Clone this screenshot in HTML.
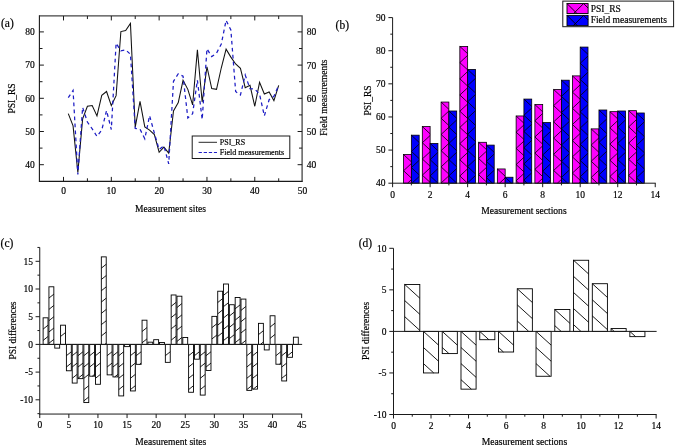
<!DOCTYPE html>
<html><head><meta charset="utf-8"><title>PSI comparison</title>
<style>html,body{margin:0;padding:0;background:#fff;overflow:hidden}svg{display:block}text{fill:#000;stroke:#000;stroke-width:0.18px}</style>
</head><body>
<svg width="675" height="446" viewBox="0 0 675 446" font-family='"Liberation Serif", serif'>
<rect width="675" height="446" fill="#fff"/>
<g id="pa">
<path d="M39.4 15.95H302.1V181.4" fill="none" stroke="#454545" stroke-width="1.3"/>
<path d="M39.4 15.35V181.4H302.70000000000005" fill="none" stroke="#1a1a1a" stroke-width="1.1"/>
<line x1="63.50" y1="181.40" x2="63.50" y2="176.90" stroke="#1a1a1a" stroke-width="1" />
<line x1="63.50" y1="15.95" x2="63.50" y2="20.45" stroke="#1a1a1a" stroke-width="1" />
<line x1="87.41" y1="181.40" x2="87.41" y2="178.30" stroke="#1a1a1a" stroke-width="1" />
<line x1="87.41" y1="15.95" x2="87.41" y2="19.05" stroke="#1a1a1a" stroke-width="1" />
<line x1="111.32" y1="181.40" x2="111.32" y2="176.90" stroke="#1a1a1a" stroke-width="1" />
<line x1="111.32" y1="15.95" x2="111.32" y2="20.45" stroke="#1a1a1a" stroke-width="1" />
<line x1="135.23" y1="181.40" x2="135.23" y2="178.30" stroke="#1a1a1a" stroke-width="1" />
<line x1="135.23" y1="15.95" x2="135.23" y2="19.05" stroke="#1a1a1a" stroke-width="1" />
<line x1="159.14" y1="181.40" x2="159.14" y2="176.90" stroke="#1a1a1a" stroke-width="1" />
<line x1="159.14" y1="15.95" x2="159.14" y2="20.45" stroke="#1a1a1a" stroke-width="1" />
<line x1="183.05" y1="181.40" x2="183.05" y2="178.30" stroke="#1a1a1a" stroke-width="1" />
<line x1="183.05" y1="15.95" x2="183.05" y2="19.05" stroke="#1a1a1a" stroke-width="1" />
<line x1="206.96" y1="181.40" x2="206.96" y2="176.90" stroke="#1a1a1a" stroke-width="1" />
<line x1="206.96" y1="15.95" x2="206.96" y2="20.45" stroke="#1a1a1a" stroke-width="1" />
<line x1="230.87" y1="181.40" x2="230.87" y2="178.30" stroke="#1a1a1a" stroke-width="1" />
<line x1="230.87" y1="15.95" x2="230.87" y2="19.05" stroke="#1a1a1a" stroke-width="1" />
<line x1="254.78" y1="181.40" x2="254.78" y2="176.90" stroke="#1a1a1a" stroke-width="1" />
<line x1="254.78" y1="15.95" x2="254.78" y2="20.45" stroke="#1a1a1a" stroke-width="1" />
<line x1="278.69" y1="181.40" x2="278.69" y2="178.30" stroke="#1a1a1a" stroke-width="1" />
<line x1="278.69" y1="15.95" x2="278.69" y2="19.05" stroke="#1a1a1a" stroke-width="1" />
<text x="63.50" y="194.10" font-size="9.5" text-anchor="middle" >0</text>
<text x="111.32" y="194.10" font-size="9.5" text-anchor="middle" >10</text>
<text x="159.14" y="194.10" font-size="9.5" text-anchor="middle" >20</text>
<text x="206.96" y="194.10" font-size="9.5" text-anchor="middle" >30</text>
<text x="254.78" y="194.10" font-size="9.5" text-anchor="middle" >40</text>
<text x="302.60" y="194.10" font-size="9.5" text-anchor="middle" >50</text>
<line x1="39.40" y1="164.70" x2="43.90" y2="164.70" stroke="#1a1a1a" stroke-width="1" />
<line x1="302.10" y1="164.70" x2="297.60" y2="164.70" stroke="#1a1a1a" stroke-width="1" />
<line x1="39.40" y1="148.10" x2="42.50" y2="148.10" stroke="#1a1a1a" stroke-width="1" />
<line x1="302.10" y1="148.10" x2="299.00" y2="148.10" stroke="#1a1a1a" stroke-width="1" />
<line x1="39.40" y1="131.50" x2="43.90" y2="131.50" stroke="#1a1a1a" stroke-width="1" />
<line x1="302.10" y1="131.50" x2="297.60" y2="131.50" stroke="#1a1a1a" stroke-width="1" />
<line x1="39.40" y1="114.90" x2="42.50" y2="114.90" stroke="#1a1a1a" stroke-width="1" />
<line x1="302.10" y1="114.90" x2="299.00" y2="114.90" stroke="#1a1a1a" stroke-width="1" />
<line x1="39.40" y1="98.30" x2="43.90" y2="98.30" stroke="#1a1a1a" stroke-width="1" />
<line x1="302.10" y1="98.30" x2="297.60" y2="98.30" stroke="#1a1a1a" stroke-width="1" />
<line x1="39.40" y1="81.70" x2="42.50" y2="81.70" stroke="#1a1a1a" stroke-width="1" />
<line x1="302.10" y1="81.70" x2="299.00" y2="81.70" stroke="#1a1a1a" stroke-width="1" />
<line x1="39.40" y1="65.10" x2="43.90" y2="65.10" stroke="#1a1a1a" stroke-width="1" />
<line x1="302.10" y1="65.10" x2="297.60" y2="65.10" stroke="#1a1a1a" stroke-width="1" />
<line x1="39.40" y1="48.50" x2="42.50" y2="48.50" stroke="#1a1a1a" stroke-width="1" />
<line x1="302.10" y1="48.50" x2="299.00" y2="48.50" stroke="#1a1a1a" stroke-width="1" />
<line x1="39.40" y1="31.90" x2="43.90" y2="31.90" stroke="#1a1a1a" stroke-width="1" />
<line x1="302.10" y1="31.90" x2="297.60" y2="31.90" stroke="#1a1a1a" stroke-width="1" />
<text x="34.80" y="167.90" font-size="9.5" text-anchor="end" >40</text>
<text x="306.80" y="168.10" font-size="9.5" text-anchor="start" >40</text>
<text x="34.80" y="134.70" font-size="9.5" text-anchor="end" >50</text>
<text x="306.80" y="134.90" font-size="9.5" text-anchor="start" >50</text>
<text x="34.80" y="101.50" font-size="9.5" text-anchor="end" >60</text>
<text x="306.80" y="101.70" font-size="9.5" text-anchor="start" >60</text>
<text x="34.80" y="68.30" font-size="9.5" text-anchor="end" >70</text>
<text x="306.80" y="68.50" font-size="9.5" text-anchor="start" >70</text>
<text x="34.80" y="35.10" font-size="9.5" text-anchor="end" >80</text>
<text x="306.80" y="35.30" font-size="9.5" text-anchor="start" >80</text>
<text x="1.00" y="27.20" font-size="11.5" text-anchor="start" >(a)</text>
<text x="14.50" y="98.50" font-size="9.5" text-anchor="middle" transform="rotate(-90 14.50 98.50)" >PSI_RS</text>
<text x="327.40" y="97.60" font-size="9.5" text-anchor="middle" transform="rotate(-90 327.40 97.60)" >Field measurements</text>
<text x="170.50" y="212.20" font-size="9.5" text-anchor="middle" >Measurement sites</text>
<polyline points="68.28,113.57 73.06,125.86 77.85,172.34 82.63,118.88 87.41,106.27 92.19,105.60 96.97,115.90 101.76,95.31 106.54,91.49 111.32,105.60 116.10,95.64 120.88,31.57 125.67,30.57 130.45,23.43 135.23,127.18 140.01,101.29 144.79,126.85 149.58,130.17 154.36,134.49 159.14,152.25 163.92,147.10 168.70,153.08 173.49,110.92 178.27,102.62 183.05,80.37 187.83,89.34 192.61,104.94 197.40,49.83 202.18,101.95 206.96,66.76 211.74,88.51 216.52,89.34 221.31,67.76 226.09,49.16 230.87,57.13 235.65,63.94 240.43,68.25 245.22,87.68 250.00,85.35 254.78,106.27 259.56,82.36 264.34,93.98 269.13,91.99 273.91,100.62 278.69,85.35" fill="none" stroke="#111" stroke-width="1.05" stroke-linejoin="miter"/>
<polyline points="68.28,97.64 73.06,90.33 77.85,174.56 82.63,107.36 87.41,122.07 92.19,128.78 96.97,136.41 101.76,130.17 106.54,110.55 111.32,129.51 116.10,43.19 120.88,50.82 125.67,49.83 130.45,54.31 135.23,128.51 140.01,129.18 144.79,138.80 149.58,115.66 154.36,133.16 159.14,149.43 163.92,145.94 168.70,163.84 173.49,81.30 178.27,73.73 183.05,76.22 187.83,118.02 192.61,113.80 197.40,80.21 202.18,119.55 206.96,48.83 211.74,56.63 216.52,53.15 221.31,43.98 226.09,20.28 230.87,29.97 235.65,91.49 240.43,95.05 245.22,75.06 250.00,88.67 254.78,89.10 259.56,94.25 264.34,115.90 269.13,99.73 273.91,96.31 278.69,85.35" fill="none" stroke="#1c1cc4" stroke-width="1.25" stroke-dasharray="3.7 3.3" stroke-linejoin="miter"/>
<rect x="192.2" y="136" width="97.6" height="22.5" fill="#fff" stroke="#1a1a1a" stroke-width="1"/>
<line x1="198.60" y1="142.30" x2="217.00" y2="142.30" stroke="#111" stroke-width="0.9" />
<line x1="198.60" y1="152.50" x2="217.00" y2="152.50" stroke="#2020c8" stroke-width="1" stroke-dasharray="3.3 1.8"/>
<text x="219.80" y="145.00" font-size="8" text-anchor="start" >PSI_RS</text>
<text x="219.80" y="155.30" font-size="8" text-anchor="start" >Field measurements</text>
</g>
<g id="pb">
<rect x="403.56" y="154.55" width="7.80" height="28.65" fill="#ff00ff" stroke="#000" stroke-width="0.8"/>
<path d="M403.56 154.55L411.36 161.81M403.56 170.75L411.36 178.01M403.56 170.75L411.36 163.50M407.59 183.20L411.36 179.70" stroke="#000" stroke-width="0.8" fill="none"/>
<rect x="411.36" y="135.18" width="7.80" height="48.02" fill="#0000ff" stroke="#000" stroke-width="0.8"/>
<path d="M411.36 135.18L419.16 142.43M411.36 151.38L419.16 158.63M411.36 167.58L419.16 174.83M411.36 151.38L419.16 144.12M411.36 167.58L419.16 160.32M411.98 183.20L419.16 176.52" stroke="#000" stroke-width="0.8" fill="none"/>
<rect x="422.32" y="126.56" width="7.80" height="56.64" fill="#ff00ff" stroke="#000" stroke-width="0.8"/>
<path d="M422.32 126.56L430.12 133.82M422.32 142.76L430.12 150.02M422.32 158.96L430.12 166.22M422.32 175.16L430.12 182.42M422.32 142.76L430.12 135.51M422.32 158.96L430.12 151.71M422.32 175.16L430.12 167.91" stroke="#000" stroke-width="0.8" fill="none"/>
<rect x="430.12" y="143.46" width="7.80" height="39.74" fill="#0000ff" stroke="#000" stroke-width="0.8"/>
<path d="M430.12 143.46L437.92 150.71M430.12 159.66L437.92 166.91M430.12 175.86L437.92 183.11M430.12 159.66L437.92 152.40M430.12 175.86L437.92 168.60" stroke="#000" stroke-width="0.8" fill="none"/>
<rect x="441.08" y="102.06" width="7.80" height="81.14" fill="#ff00ff" stroke="#000" stroke-width="0.8"/>
<path d="M441.08 102.06L448.88 109.31M441.08 118.26L448.88 125.51M441.08 134.46L448.88 141.71M441.08 150.66L448.88 157.91M441.08 166.86L448.88 174.11M441.08 118.26L448.88 111.00M441.08 134.46L448.88 127.20M441.08 150.66L448.88 143.40M441.08 166.86L448.88 159.60M441.08 183.06L448.88 175.80" stroke="#000" stroke-width="0.8" fill="none"/>
<rect x="448.88" y="111.00" width="7.80" height="72.20" fill="#0000ff" stroke="#000" stroke-width="0.8"/>
<path d="M448.88 111.00L456.68 118.25M448.88 127.20L456.68 134.45M448.88 143.40L456.68 150.65M448.88 159.60L456.68 166.85M448.88 175.80L456.68 183.05M448.88 127.20L456.68 119.94M448.88 143.40L456.68 136.14M448.88 159.60L456.68 152.34M448.88 175.80L456.68 168.54" stroke="#000" stroke-width="0.8" fill="none"/>
<rect x="459.84" y="46.41" width="7.80" height="136.79" fill="#ff00ff" stroke="#000" stroke-width="0.8"/>
<path d="M459.84 46.41L467.64 53.67M459.84 62.61L467.64 69.87M459.84 78.81L467.64 86.07M459.84 95.01L467.64 102.27M459.84 111.21L467.64 118.47M459.84 127.41L467.64 134.67M459.84 143.61L467.64 150.87M459.84 159.81L467.64 167.07M459.84 176.01L467.57 183.20M459.84 62.61L467.64 55.36M459.84 78.81L467.64 71.56M459.84 95.01L467.64 87.76M459.84 111.21L467.64 103.96M459.84 127.41L467.64 120.16M459.84 143.61L467.64 136.36M459.84 159.81L467.64 152.56M459.84 176.01L467.64 168.76" stroke="#000" stroke-width="0.8" fill="none"/>
<rect x="467.64" y="69.43" width="7.80" height="113.77" fill="#0000ff" stroke="#000" stroke-width="0.8"/>
<path d="M467.64 69.43L475.44 76.69M467.64 85.63L475.44 92.89M467.64 101.83L475.44 109.09M467.64 118.03L475.44 125.29M467.64 134.23L475.44 141.49M467.64 150.43L475.44 157.69M467.64 166.63L475.44 173.89M467.64 182.83L468.03 183.20M467.64 85.63L475.44 78.38M467.64 101.83L475.44 94.58M467.64 118.03L475.44 110.78M467.64 134.23L475.44 126.98M467.64 150.43L475.44 143.18M467.64 166.63L475.44 159.38M467.64 182.83L475.44 175.58" stroke="#000" stroke-width="0.8" fill="none"/>
<rect x="478.60" y="142.30" width="7.80" height="40.90" fill="#ff00ff" stroke="#000" stroke-width="0.8"/>
<path d="M478.60 142.30L486.40 149.55M478.60 158.50L486.40 165.75M478.60 174.70L486.40 181.95M478.60 158.50L486.40 151.24M478.60 174.70L486.40 167.44" stroke="#000" stroke-width="0.8" fill="none"/>
<rect x="486.40" y="145.11" width="7.80" height="38.09" fill="#0000ff" stroke="#000" stroke-width="0.8"/>
<path d="M486.40 145.11L494.20 152.37M486.40 161.31L494.20 168.57M486.40 177.51L492.52 183.20M486.40 161.31L494.20 154.06M486.40 177.51L494.20 170.26" stroke="#000" stroke-width="0.8" fill="none"/>
<rect x="497.36" y="168.96" width="7.80" height="14.24" fill="#ff00ff" stroke="#000" stroke-width="0.8"/>
<path d="M497.36 168.96L505.16 176.21M499.47 183.20L505.16 177.90" stroke="#000" stroke-width="0.8" fill="none"/>
<rect x="505.16" y="177.24" width="7.80" height="5.96" fill="#0000ff" stroke="#000" stroke-width="0.8"/>
<path d="M505.16 177.24L511.57 183.20" stroke="#000" stroke-width="0.8" fill="none"/>
<rect x="516.12" y="115.97" width="7.80" height="67.23" fill="#ff00ff" stroke="#000" stroke-width="0.8"/>
<path d="M516.12 115.97L523.92 123.22M516.12 132.17L523.92 139.42M516.12 148.37L523.92 155.62M516.12 164.57L523.92 171.82M516.12 180.77L518.74 183.20M516.12 132.17L523.92 124.91M516.12 148.37L523.92 141.11M516.12 164.57L523.92 157.31M516.12 180.77L523.92 173.51" stroke="#000" stroke-width="0.8" fill="none"/>
<rect x="523.92" y="99.08" width="7.80" height="84.12" fill="#0000ff" stroke="#000" stroke-width="0.8"/>
<path d="M523.92 99.08L531.72 106.33M523.92 115.28L531.72 122.53M523.92 131.48L531.72 138.73M523.92 147.68L531.72 154.93M523.92 163.88L531.72 171.13M523.92 180.08L527.28 183.20M523.92 115.28L531.72 108.02M523.92 131.48L531.72 124.22M523.92 147.68L531.72 140.42M523.92 163.88L531.72 156.62M523.92 180.08L531.72 172.82" stroke="#000" stroke-width="0.8" fill="none"/>
<rect x="534.88" y="104.54" width="7.80" height="78.66" fill="#ff00ff" stroke="#000" stroke-width="0.8"/>
<path d="M534.88 104.54L542.68 111.79M534.88 120.74L542.68 127.99M534.88 136.94L542.68 144.19M534.88 153.14L542.68 160.39M534.88 169.34L542.68 176.59M534.88 120.74L542.68 113.49M534.88 136.94L542.68 129.69M534.88 153.14L542.68 145.89M534.88 169.34L542.68 162.09M537.40 183.20L542.68 178.29" stroke="#000" stroke-width="0.8" fill="none"/>
<rect x="542.68" y="122.59" width="7.80" height="60.61" fill="#0000ff" stroke="#000" stroke-width="0.8"/>
<path d="M542.68 122.59L550.48 129.84M542.68 138.79L550.48 146.04M542.68 154.99L550.48 162.24M542.68 171.19L550.48 178.44M542.68 138.79L550.48 131.54M542.68 154.99L550.48 147.74M542.68 171.19L550.48 163.94M547.19 183.20L550.48 180.14" stroke="#000" stroke-width="0.8" fill="none"/>
<rect x="553.64" y="89.47" width="7.80" height="93.73" fill="#ff00ff" stroke="#000" stroke-width="0.8"/>
<path d="M553.64 89.47L561.44 96.72M553.64 105.67L561.44 112.92M553.64 121.87L561.44 129.12M553.64 138.07L561.44 145.32M553.64 154.27L561.44 161.52M553.64 170.47L561.44 177.72M553.64 105.67L561.44 98.42M553.64 121.87L561.44 114.62M553.64 138.07L561.44 130.82M553.64 154.27L561.44 147.02M553.64 170.47L561.44 163.22M557.37 183.20L561.44 179.42" stroke="#000" stroke-width="0.8" fill="none"/>
<rect x="561.44" y="80.20" width="7.80" height="103.00" fill="#0000ff" stroke="#000" stroke-width="0.8"/>
<path d="M561.44 80.20L569.24 87.45M561.44 96.40L569.24 103.65M561.44 112.60L569.24 119.85M561.44 128.80L569.24 136.05M561.44 145.00L569.24 152.25M561.44 161.20L569.24 168.45M561.44 177.40L567.68 183.20M561.44 96.40L569.24 89.14M561.44 112.60L569.24 105.34M561.44 128.80L569.24 121.54M561.44 145.00L569.24 137.74M561.44 161.20L569.24 153.94M561.44 177.40L569.24 170.14" stroke="#000" stroke-width="0.8" fill="none"/>
<rect x="572.40" y="75.89" width="7.80" height="107.31" fill="#ff00ff" stroke="#000" stroke-width="0.8"/>
<path d="M572.40 75.89L580.20 83.15M572.40 92.09L580.20 99.35M572.40 108.29L580.20 115.55M572.40 124.49L580.20 131.75M572.40 140.69L580.20 147.95M572.40 156.89L580.20 164.15M572.40 173.09L580.20 180.35M572.40 92.09L580.20 84.84M572.40 108.29L580.20 101.04M572.40 124.49L580.20 117.24M572.40 140.69L580.20 133.44M572.40 156.89L580.20 149.64M572.40 173.09L580.20 165.84M578.95 183.20L580.20 182.04" stroke="#000" stroke-width="0.8" fill="none"/>
<rect x="580.20" y="47.08" width="7.80" height="136.12" fill="#0000ff" stroke="#000" stroke-width="0.8"/>
<path d="M580.20 47.08L588.00 54.33M580.20 63.28L588.00 70.53M580.20 79.48L588.00 86.73M580.20 95.68L588.00 102.93M580.20 111.88L588.00 119.13M580.20 128.08L588.00 135.33M580.20 144.28L588.00 151.53M580.20 160.48L588.00 167.73M580.20 176.68L587.21 183.20M580.20 63.28L588.00 56.02M580.20 79.48L588.00 72.22M580.20 95.68L588.00 88.42M580.20 111.88L588.00 104.62M580.20 128.08L588.00 120.82M580.20 144.28L588.00 137.02M580.20 160.48L588.00 153.22M580.20 176.68L588.00 169.42" stroke="#000" stroke-width="0.8" fill="none"/>
<rect x="591.16" y="128.88" width="7.80" height="54.32" fill="#ff00ff" stroke="#000" stroke-width="0.8"/>
<path d="M591.16 128.88L598.96 136.14M591.16 145.08L598.96 152.34M591.16 161.28L598.96 168.54M591.16 177.48L597.31 183.20M591.16 145.08L598.96 137.83M591.16 161.28L598.96 154.03M591.16 177.48L598.96 170.23" stroke="#000" stroke-width="0.8" fill="none"/>
<rect x="598.96" y="110.00" width="7.80" height="73.20" fill="#0000ff" stroke="#000" stroke-width="0.8"/>
<path d="M598.96 110.00L606.76 117.26M598.96 126.20L606.76 133.46M598.96 142.40L606.76 149.66M598.96 158.60L606.76 165.86M598.96 174.80L606.76 182.06M598.96 126.20L606.76 118.95M598.96 142.40L606.76 135.15M598.96 158.60L606.76 151.35M598.96 174.80L606.76 167.55" stroke="#000" stroke-width="0.8" fill="none"/>
<rect x="609.92" y="111.66" width="7.80" height="71.54" fill="#ff00ff" stroke="#000" stroke-width="0.8"/>
<path d="M609.92 111.66L617.72 118.91M609.92 127.86L617.72 135.11M609.92 144.06L617.72 151.31M609.92 160.26L617.72 167.51M609.92 176.46L617.17 183.20M609.92 127.86L617.72 120.61M609.92 144.06L617.72 136.81M609.92 160.26L617.72 153.01M609.92 176.46L617.72 169.21" stroke="#000" stroke-width="0.8" fill="none"/>
<rect x="617.72" y="111.00" width="7.80" height="72.20" fill="#0000ff" stroke="#000" stroke-width="0.8"/>
<path d="M617.72 111.00L625.52 118.25M617.72 127.20L625.52 134.45M617.72 143.40L625.52 150.65M617.72 159.60L625.52 166.85M617.72 175.80L625.52 183.05M617.72 127.20L625.52 119.94M617.72 143.40L625.52 136.14M617.72 159.60L625.52 152.34M617.72 175.80L625.52 168.54" stroke="#000" stroke-width="0.8" fill="none"/>
<rect x="628.68" y="110.67" width="7.80" height="72.53" fill="#ff00ff" stroke="#000" stroke-width="0.8"/>
<path d="M628.68 110.67L636.48 117.92M628.68 126.87L636.48 134.12M628.68 143.07L636.48 150.32M628.68 159.27L636.48 166.52M628.68 175.47L636.48 182.72M628.68 126.87L636.48 119.61M628.68 143.07L636.48 135.81M628.68 159.27L636.48 152.01M628.68 175.47L636.48 168.21" stroke="#000" stroke-width="0.8" fill="none"/>
<rect x="636.48" y="112.99" width="7.80" height="70.21" fill="#0000ff" stroke="#000" stroke-width="0.8"/>
<path d="M636.48 112.99L644.28 120.24M636.48 129.19L644.28 136.44M636.48 145.39L644.28 152.64M636.48 161.59L644.28 168.84M636.48 177.79L642.30 183.20M636.48 129.19L644.28 121.93M636.48 145.39L644.28 138.13M636.48 161.59L644.28 154.33M636.48 177.79L644.28 170.53" stroke="#000" stroke-width="0.8" fill="none"/>
<line x1="392.60" y1="17.60" x2="392.60" y2="183.70" stroke="#1a1a1a" stroke-width="1" />
<line x1="392.10" y1="183.20" x2="655.74" y2="183.20" stroke="#1a1a1a" stroke-width="1" />
<line x1="392.60" y1="183.20" x2="388.40" y2="183.20" stroke="#1a1a1a" stroke-width="1" />
<line x1="392.60" y1="166.64" x2="390.30" y2="166.64" stroke="#1a1a1a" stroke-width="1" />
<line x1="392.60" y1="150.08" x2="388.40" y2="150.08" stroke="#1a1a1a" stroke-width="1" />
<line x1="392.60" y1="133.52" x2="390.30" y2="133.52" stroke="#1a1a1a" stroke-width="1" />
<line x1="392.60" y1="116.96" x2="388.40" y2="116.96" stroke="#1a1a1a" stroke-width="1" />
<line x1="392.60" y1="100.40" x2="390.30" y2="100.40" stroke="#1a1a1a" stroke-width="1" />
<line x1="392.60" y1="83.84" x2="388.40" y2="83.84" stroke="#1a1a1a" stroke-width="1" />
<line x1="392.60" y1="67.28" x2="390.30" y2="67.28" stroke="#1a1a1a" stroke-width="1" />
<line x1="392.60" y1="50.72" x2="388.40" y2="50.72" stroke="#1a1a1a" stroke-width="1" />
<line x1="392.60" y1="34.16" x2="390.30" y2="34.16" stroke="#1a1a1a" stroke-width="1" />
<line x1="392.60" y1="17.60" x2="388.40" y2="17.60" stroke="#1a1a1a" stroke-width="1" />
<text x="385.60" y="186.40" font-size="9.5" text-anchor="end" >40</text>
<text x="385.60" y="153.28" font-size="9.5" text-anchor="end" >50</text>
<text x="385.60" y="120.16" font-size="9.5" text-anchor="end" >60</text>
<text x="385.60" y="87.04" font-size="9.5" text-anchor="end" >70</text>
<text x="385.60" y="53.92" font-size="9.5" text-anchor="end" >80</text>
<text x="385.60" y="20.80" font-size="9.5" text-anchor="end" >90</text>
<line x1="392.60" y1="183.20" x2="392.60" y2="187.20" stroke="#1a1a1a" stroke-width="1" />
<line x1="411.36" y1="183.20" x2="411.36" y2="185.40" stroke="#1a1a1a" stroke-width="1" />
<line x1="430.12" y1="183.20" x2="430.12" y2="187.20" stroke="#1a1a1a" stroke-width="1" />
<line x1="448.88" y1="183.20" x2="448.88" y2="185.40" stroke="#1a1a1a" stroke-width="1" />
<line x1="467.64" y1="183.20" x2="467.64" y2="187.20" stroke="#1a1a1a" stroke-width="1" />
<line x1="486.40" y1="183.20" x2="486.40" y2="185.40" stroke="#1a1a1a" stroke-width="1" />
<line x1="505.16" y1="183.20" x2="505.16" y2="187.20" stroke="#1a1a1a" stroke-width="1" />
<line x1="523.92" y1="183.20" x2="523.92" y2="185.40" stroke="#1a1a1a" stroke-width="1" />
<line x1="542.68" y1="183.20" x2="542.68" y2="187.20" stroke="#1a1a1a" stroke-width="1" />
<line x1="561.44" y1="183.20" x2="561.44" y2="185.40" stroke="#1a1a1a" stroke-width="1" />
<line x1="580.20" y1="183.20" x2="580.20" y2="187.20" stroke="#1a1a1a" stroke-width="1" />
<line x1="598.96" y1="183.20" x2="598.96" y2="185.40" stroke="#1a1a1a" stroke-width="1" />
<line x1="617.72" y1="183.20" x2="617.72" y2="187.20" stroke="#1a1a1a" stroke-width="1" />
<line x1="636.48" y1="183.20" x2="636.48" y2="185.40" stroke="#1a1a1a" stroke-width="1" />
<line x1="655.24" y1="183.20" x2="655.24" y2="187.20" stroke="#1a1a1a" stroke-width="1" />
<text x="392.60" y="197.80" font-size="9.5" text-anchor="middle" >0</text>
<text x="430.12" y="197.80" font-size="9.5" text-anchor="middle" >2</text>
<text x="467.64" y="197.80" font-size="9.5" text-anchor="middle" >4</text>
<text x="505.16" y="197.80" font-size="9.5" text-anchor="middle" >6</text>
<text x="542.68" y="197.80" font-size="9.5" text-anchor="middle" >8</text>
<text x="580.20" y="197.80" font-size="9.5" text-anchor="middle" >10</text>
<text x="617.72" y="197.80" font-size="9.5" text-anchor="middle" >12</text>
<text x="655.24" y="197.80" font-size="9.5" text-anchor="middle" >14</text>
<text x="335.60" y="29.00" font-size="11.5" text-anchor="start" >(b)</text>
<text x="371.20" y="100.50" font-size="9.5" text-anchor="middle" transform="rotate(-90 371.20 100.50)" >PSI_RS</text>
<text x="523.90" y="214.10" font-size="9.6" text-anchor="middle" >Measurement sections</text>
<rect x="562.8" y="1.1" width="110.8" height="25.6" fill="#fff" stroke="#1a1a1a" stroke-width="1"/>
<rect x="567.00" y="3.55" width="21.10" height="10.00" fill="#ff00ff" stroke="#000" stroke-width="0.9"/>
<path d="M583.60 3.55L588.10 8.05M567.00 3.55L577.00 13.55M573.60 13.55L583.60 3.55" stroke="#000" stroke-width="0.9" fill="none"/>
<rect x="567.00" y="15.35" width="21.10" height="10.30" fill="#0000ff" stroke="#000" stroke-width="0.9"/>
<path d="M583.60 15.35L588.10 19.85M567.00 15.35L577.30 25.65M573.30 25.65L583.60 15.35" stroke="#000" stroke-width="0.9" fill="none"/>
<text x="590.70" y="11.70" font-size="9.5" text-anchor="start" >PSI_RS</text>
<text x="590.70" y="23.20" font-size="9.5" text-anchor="start" >Field measurements</text>
</g>
<g id="pc">
<rect x="43.12" y="317.81" width="4.90" height="26.59" fill="#fff" stroke="#000" stroke-width="0.9"/>
<path d="M43.12 329.11L48.02 325.19M43.12 340.41L48.02 336.49" stroke="#000" stroke-width="0.9" fill="none"/>
<rect x="48.94" y="286.78" width="4.90" height="57.62" fill="#fff" stroke="#000" stroke-width="0.9"/>
<path d="M48.94 298.08L53.84 294.16M48.94 309.38L53.84 305.46M48.94 320.68L53.84 316.76M48.94 331.98L53.84 328.06M48.94 343.28L53.84 339.36" stroke="#000" stroke-width="0.9" fill="none"/>
<rect x="54.76" y="344.40" width="4.90" height="3.71" fill="#fff" stroke="#000" stroke-width="0.9"/>
<rect x="60.58" y="325.18" width="4.90" height="19.22" fill="#fff" stroke="#000" stroke-width="0.9"/>
<path d="M60.58 336.48L65.48 332.56M64.80 344.40L65.48 343.86" stroke="#000" stroke-width="0.9" fill="none"/>
<rect x="66.40" y="344.40" width="4.90" height="26.37" fill="#fff" stroke="#000" stroke-width="0.9"/>
<path d="M66.40 355.70L71.30 351.78M66.40 367.00L71.30 363.08" stroke="#000" stroke-width="0.9" fill="none"/>
<rect x="72.22" y="344.40" width="4.90" height="38.67" fill="#fff" stroke="#000" stroke-width="0.9"/>
<path d="M72.22 355.70L77.12 351.78M72.22 367.00L77.12 363.08M72.22 378.30L77.12 374.38" stroke="#000" stroke-width="0.9" fill="none"/>
<rect x="78.04" y="344.40" width="4.90" height="34.24" fill="#fff" stroke="#000" stroke-width="0.9"/>
<path d="M78.04 355.70L82.94 351.78M78.04 367.00L82.94 363.08M78.04 378.30L82.94 374.38" stroke="#000" stroke-width="0.9" fill="none"/>
<rect x="83.86" y="344.40" width="4.90" height="58.17" fill="#fff" stroke="#000" stroke-width="0.9"/>
<path d="M83.86 355.70L88.76 351.78M83.86 367.00L88.76 363.08M83.86 378.30L88.76 374.38M83.86 389.60L88.76 385.68M83.86 400.90L88.76 396.98" stroke="#000" stroke-width="0.9" fill="none"/>
<rect x="89.68" y="344.40" width="4.90" height="31.80" fill="#fff" stroke="#000" stroke-width="0.9"/>
<path d="M89.68 355.70L94.58 351.78M89.68 367.00L94.58 363.08M92.31 376.20L94.58 374.38" stroke="#000" stroke-width="0.9" fill="none"/>
<rect x="95.50" y="344.40" width="4.90" height="39.89" fill="#fff" stroke="#000" stroke-width="0.9"/>
<path d="M95.50 355.70L100.40 351.78M95.50 367.00L100.40 363.08M95.50 378.30L100.40 374.38" stroke="#000" stroke-width="0.9" fill="none"/>
<rect x="101.32" y="256.87" width="4.90" height="87.53" fill="#fff" stroke="#000" stroke-width="0.9"/>
<path d="M101.32 268.17L106.22 264.25M101.32 279.47L106.22 275.55M101.32 290.77L106.22 286.85M101.32 302.07L106.22 298.15M101.32 313.37L106.22 309.45M101.32 324.67L106.22 320.75M101.32 335.97L106.22 332.05M104.90 344.40L106.22 343.35" stroke="#000" stroke-width="0.9" fill="none"/>
<rect x="107.14" y="344.40" width="4.90" height="30.47" fill="#fff" stroke="#000" stroke-width="0.9"/>
<path d="M107.14 355.70L112.04 351.78M107.14 367.00L112.04 363.08M111.43 374.87L112.04 374.38" stroke="#000" stroke-width="0.9" fill="none"/>
<rect x="112.96" y="344.40" width="4.90" height="32.52" fill="#fff" stroke="#000" stroke-width="0.9"/>
<path d="M112.96 355.70L117.86 351.78M112.96 367.00L117.86 363.08M114.69 376.92L117.86 374.38" stroke="#000" stroke-width="0.9" fill="none"/>
<rect x="118.78" y="344.40" width="4.90" height="51.52" fill="#fff" stroke="#000" stroke-width="0.9"/>
<path d="M118.78 355.70L123.68 351.78M118.78 367.00L123.68 363.08M118.78 378.30L123.68 374.38M118.78 389.60L123.68 385.68" stroke="#000" stroke-width="0.9" fill="none"/>
<rect x="124.60" y="344.40" width="4.90" height="2.22" fill="#fff" stroke="#000" stroke-width="0.9"/>
<rect x="130.42" y="344.40" width="4.90" height="46.54" fill="#fff" stroke="#000" stroke-width="0.9"/>
<path d="M130.42 355.70L135.32 351.78M130.42 367.00L135.32 363.08M130.42 378.30L135.32 374.38M130.42 389.60L135.32 385.68" stroke="#000" stroke-width="0.9" fill="none"/>
<rect x="136.24" y="344.40" width="4.90" height="19.94" fill="#fff" stroke="#000" stroke-width="0.9"/>
<path d="M136.24 355.70L141.14 351.78M139.56 364.34L141.14 363.08" stroke="#000" stroke-width="0.9" fill="none"/>
<rect x="142.06" y="320.19" width="4.90" height="24.21" fill="#fff" stroke="#000" stroke-width="0.9"/>
<path d="M142.06 331.49L146.96 327.57M142.06 342.79L146.96 338.87" stroke="#000" stroke-width="0.9" fill="none"/>
<rect x="147.88" y="342.18" width="4.90" height="2.22" fill="#fff" stroke="#000" stroke-width="0.9"/>
<rect x="153.70" y="339.69" width="4.90" height="4.71" fill="#fff" stroke="#000" stroke-width="0.9"/>
<rect x="159.52" y="342.46" width="4.90" height="1.94" fill="#fff" stroke="#000" stroke-width="0.9"/>
<rect x="165.34" y="344.40" width="4.90" height="17.95" fill="#fff" stroke="#000" stroke-width="0.9"/>
<path d="M165.34 355.70L170.24 351.78" stroke="#000" stroke-width="0.9" fill="none"/>
<rect x="171.16" y="294.98" width="4.90" height="49.42" fill="#fff" stroke="#000" stroke-width="0.9"/>
<path d="M171.16 306.28L176.06 302.36M171.16 317.58L176.06 313.66M171.16 328.88L176.06 324.96M171.16 340.18L176.06 336.26" stroke="#000" stroke-width="0.9" fill="none"/>
<rect x="176.98" y="296.20" width="4.90" height="48.20" fill="#fff" stroke="#000" stroke-width="0.9"/>
<path d="M176.98 307.50L181.88 303.58M176.98 318.80L181.88 314.88M176.98 330.10L181.88 326.18M176.98 341.40L181.88 337.48" stroke="#000" stroke-width="0.9" fill="none"/>
<rect x="182.80" y="337.47" width="4.90" height="6.93" fill="#fff" stroke="#000" stroke-width="0.9"/>
<rect x="188.62" y="344.40" width="4.90" height="47.87" fill="#fff" stroke="#000" stroke-width="0.9"/>
<path d="M188.62 355.70L193.52 351.78M188.62 367.00L193.52 363.08M188.62 378.30L193.52 374.38M188.62 389.60L193.52 385.68" stroke="#000" stroke-width="0.9" fill="none"/>
<rect x="194.44" y="344.40" width="4.90" height="14.79" fill="#fff" stroke="#000" stroke-width="0.9"/>
<path d="M194.44 355.70L199.34 351.78" stroke="#000" stroke-width="0.9" fill="none"/>
<rect x="200.26" y="344.40" width="4.90" height="50.69" fill="#fff" stroke="#000" stroke-width="0.9"/>
<path d="M200.26 355.70L205.16 351.78M200.26 367.00L205.16 363.08M200.26 378.30L205.16 374.38M200.26 389.60L205.16 385.68" stroke="#000" stroke-width="0.9" fill="none"/>
<rect x="206.08" y="344.40" width="4.90" height="26.04" fill="#fff" stroke="#000" stroke-width="0.9"/>
<path d="M206.08 355.70L210.98 351.78M206.08 367.00L210.98 363.08" stroke="#000" stroke-width="0.9" fill="none"/>
<rect x="211.90" y="316.37" width="4.90" height="28.03" fill="#fff" stroke="#000" stroke-width="0.9"/>
<path d="M211.90 327.67L216.80 323.75M211.90 338.97L216.80 335.05" stroke="#000" stroke-width="0.9" fill="none"/>
<rect x="217.72" y="291.22" width="4.90" height="53.18" fill="#fff" stroke="#000" stroke-width="0.9"/>
<path d="M217.72 302.52L222.62 298.60M217.72 313.82L222.62 309.90M217.72 325.12L222.62 321.20M217.72 336.42L222.62 332.50M221.87 344.40L222.62 343.80" stroke="#000" stroke-width="0.9" fill="none"/>
<rect x="223.54" y="284.01" width="4.90" height="60.39" fill="#fff" stroke="#000" stroke-width="0.9"/>
<path d="M223.54 295.31L228.44 291.39M223.54 306.61L228.44 302.69M223.54 317.91L228.44 313.99M223.54 329.21L228.44 325.29M223.54 340.51L228.44 336.59" stroke="#000" stroke-width="0.9" fill="none"/>
<rect x="229.36" y="304.73" width="4.90" height="39.67" fill="#fff" stroke="#000" stroke-width="0.9"/>
<path d="M229.36 316.03L234.26 312.11M229.36 327.33L234.26 323.41M229.36 338.63L234.26 334.71" stroke="#000" stroke-width="0.9" fill="none"/>
<rect x="235.18" y="297.48" width="4.90" height="46.92" fill="#fff" stroke="#000" stroke-width="0.9"/>
<path d="M235.18 308.78L240.08 304.86M235.18 320.08L240.08 316.16M235.18 331.38L240.08 327.46M235.18 342.68L240.08 338.76" stroke="#000" stroke-width="0.9" fill="none"/>
<rect x="241.00" y="299.08" width="4.90" height="45.32" fill="#fff" stroke="#000" stroke-width="0.9"/>
<path d="M241.00 310.38L245.90 306.46M241.00 321.68L245.90 317.76M241.00 332.98L245.90 329.06M241.00 344.28L245.90 340.36" stroke="#000" stroke-width="0.9" fill="none"/>
<rect x="246.82" y="344.40" width="4.90" height="45.98" fill="#fff" stroke="#000" stroke-width="0.9"/>
<path d="M246.82 355.70L251.72 351.78M246.82 367.00L251.72 363.08M246.82 378.30L251.72 374.38M246.82 389.60L251.72 385.68" stroke="#000" stroke-width="0.9" fill="none"/>
<rect x="252.64" y="344.40" width="4.90" height="44.71" fill="#fff" stroke="#000" stroke-width="0.9"/>
<path d="M252.64 355.70L257.54 351.78M252.64 367.00L257.54 363.08M252.64 378.30L257.54 374.38M253.26 389.11L257.54 385.68" stroke="#000" stroke-width="0.9" fill="none"/>
<rect x="258.46" y="323.35" width="4.90" height="21.05" fill="#fff" stroke="#000" stroke-width="0.9"/>
<path d="M258.46 334.65L263.36 330.73M260.40 344.40L263.36 342.03" stroke="#000" stroke-width="0.9" fill="none"/>
<rect x="264.28" y="344.40" width="4.90" height="5.54" fill="#fff" stroke="#000" stroke-width="0.9"/>
<rect x="270.10" y="315.76" width="4.90" height="28.64" fill="#fff" stroke="#000" stroke-width="0.9"/>
<path d="M270.10 327.06L275.00 323.14M270.10 338.36L275.00 334.44" stroke="#000" stroke-width="0.9" fill="none"/>
<rect x="275.92" y="344.40" width="4.90" height="19.83" fill="#fff" stroke="#000" stroke-width="0.9"/>
<path d="M275.92 355.70L280.82 351.78M279.38 364.23L280.82 363.08" stroke="#000" stroke-width="0.9" fill="none"/>
<rect x="281.74" y="344.40" width="4.90" height="36.56" fill="#fff" stroke="#000" stroke-width="0.9"/>
<path d="M281.74 355.70L286.64 351.78M281.74 367.00L286.64 363.08M281.74 378.30L286.64 374.38" stroke="#000" stroke-width="0.9" fill="none"/>
<rect x="287.56" y="344.40" width="4.90" height="12.91" fill="#fff" stroke="#000" stroke-width="0.9"/>
<path d="M287.56 355.70L292.46 351.78" stroke="#000" stroke-width="0.9" fill="none"/>
<rect x="293.38" y="337.20" width="4.90" height="7.20" fill="#fff" stroke="#000" stroke-width="0.9"/>
<line x1="39.75" y1="247.45" x2="39.75" y2="414.55" stroke="#1a1a1a" stroke-width="1" />
<line x1="39.25" y1="414.05" x2="302.15" y2="414.05" stroke="#1a1a1a" stroke-width="1" />
<line x1="39.75" y1="344.40" x2="302.15" y2="344.40" stroke="#1a1a1a" stroke-width="1" />
<line x1="39.75" y1="413.65" x2="37.45" y2="413.65" stroke="#1a1a1a" stroke-width="1" />
<line x1="39.75" y1="399.80" x2="35.55" y2="399.80" stroke="#1a1a1a" stroke-width="1" />
<line x1="39.75" y1="385.95" x2="37.45" y2="385.95" stroke="#1a1a1a" stroke-width="1" />
<line x1="39.75" y1="372.10" x2="35.55" y2="372.10" stroke="#1a1a1a" stroke-width="1" />
<line x1="39.75" y1="358.25" x2="37.45" y2="358.25" stroke="#1a1a1a" stroke-width="1" />
<line x1="39.75" y1="344.40" x2="35.55" y2="344.40" stroke="#1a1a1a" stroke-width="1" />
<line x1="39.75" y1="330.55" x2="37.45" y2="330.55" stroke="#1a1a1a" stroke-width="1" />
<line x1="39.75" y1="316.70" x2="35.55" y2="316.70" stroke="#1a1a1a" stroke-width="1" />
<line x1="39.75" y1="302.85" x2="37.45" y2="302.85" stroke="#1a1a1a" stroke-width="1" />
<line x1="39.75" y1="289.00" x2="35.55" y2="289.00" stroke="#1a1a1a" stroke-width="1" />
<line x1="39.75" y1="275.15" x2="37.45" y2="275.15" stroke="#1a1a1a" stroke-width="1" />
<line x1="39.75" y1="261.30" x2="35.55" y2="261.30" stroke="#1a1a1a" stroke-width="1" />
<line x1="39.75" y1="247.45" x2="37.45" y2="247.45" stroke="#1a1a1a" stroke-width="1" />
<text x="32.90" y="403.00" font-size="9.5" text-anchor="end" >-10</text>
<text x="32.90" y="375.30" font-size="9.5" text-anchor="end" >-5</text>
<text x="32.90" y="347.60" font-size="9.5" text-anchor="end" >0</text>
<text x="32.90" y="319.90" font-size="9.5" text-anchor="end" >5</text>
<text x="32.90" y="292.20" font-size="9.5" text-anchor="end" >10</text>
<text x="32.90" y="264.50" font-size="9.5" text-anchor="end" >15</text>
<line x1="39.75" y1="414.05" x2="39.75" y2="418.05" stroke="#1a1a1a" stroke-width="1" />
<text x="39.75" y="428.20" font-size="9.5" text-anchor="middle" >0</text>
<line x1="68.85" y1="414.05" x2="68.85" y2="418.05" stroke="#1a1a1a" stroke-width="1" />
<text x="68.85" y="428.20" font-size="9.5" text-anchor="middle" >5</text>
<line x1="97.95" y1="414.05" x2="97.95" y2="418.05" stroke="#1a1a1a" stroke-width="1" />
<text x="97.95" y="428.20" font-size="9.5" text-anchor="middle" >10</text>
<line x1="127.05" y1="414.05" x2="127.05" y2="418.05" stroke="#1a1a1a" stroke-width="1" />
<text x="127.05" y="428.20" font-size="9.5" text-anchor="middle" >15</text>
<line x1="156.15" y1="414.05" x2="156.15" y2="418.05" stroke="#1a1a1a" stroke-width="1" />
<text x="156.15" y="428.20" font-size="9.5" text-anchor="middle" >20</text>
<line x1="185.25" y1="414.05" x2="185.25" y2="418.05" stroke="#1a1a1a" stroke-width="1" />
<text x="185.25" y="428.20" font-size="9.5" text-anchor="middle" >25</text>
<line x1="214.35" y1="414.05" x2="214.35" y2="418.05" stroke="#1a1a1a" stroke-width="1" />
<text x="214.35" y="428.20" font-size="9.5" text-anchor="middle" >30</text>
<line x1="243.45" y1="414.05" x2="243.45" y2="418.05" stroke="#1a1a1a" stroke-width="1" />
<text x="243.45" y="428.20" font-size="9.5" text-anchor="middle" >35</text>
<line x1="272.55" y1="414.05" x2="272.55" y2="418.05" stroke="#1a1a1a" stroke-width="1" />
<text x="272.55" y="428.20" font-size="9.5" text-anchor="middle" >40</text>
<line x1="301.65" y1="414.05" x2="301.65" y2="418.05" stroke="#1a1a1a" stroke-width="1" />
<text x="301.65" y="428.20" font-size="9.5" text-anchor="middle" >45</text>
<text x="0.60" y="247.20" font-size="11.5" text-anchor="start" >(c)</text>
<text x="16.00" y="330.50" font-size="9.5" text-anchor="middle" transform="rotate(-90 16.00 330.50)" >PSI differences</text>
<text x="170.80" y="444.90" font-size="9.5" text-anchor="middle" >Measurement sites</text>
</g>
<g id="pd">
<rect x="404.71" y="284.45" width="15.10" height="46.95" fill="#fff" stroke="#000" stroke-width="0.9"/>
<path d="M404.71 284.45L419.81 298.19M404.71 300.55L419.81 314.29M404.71 316.65L419.81 330.39" stroke="#000" stroke-width="0.9" fill="none"/>
<rect x="423.47" y="331.40" width="15.10" height="41.55" fill="#fff" stroke="#000" stroke-width="0.9"/>
<path d="M423.47 331.40L438.57 345.14M423.47 347.50L438.57 361.24M423.47 363.60L433.74 372.95" stroke="#000" stroke-width="0.9" fill="none"/>
<rect x="442.23" y="331.40" width="15.10" height="22.19" fill="#fff" stroke="#000" stroke-width="0.9"/>
<path d="M442.23 331.40L457.33 345.14M442.23 347.50L448.92 353.59" stroke="#000" stroke-width="0.9" fill="none"/>
<rect x="460.99" y="331.40" width="15.10" height="57.75" fill="#fff" stroke="#000" stroke-width="0.9"/>
<path d="M460.99 331.40L476.09 345.14M460.99 347.50L476.09 361.24M460.99 363.60L476.09 377.34M460.99 379.70L471.38 389.15" stroke="#000" stroke-width="0.9" fill="none"/>
<rect x="479.75" y="331.40" width="15.10" height="8.31" fill="#fff" stroke="#000" stroke-width="0.9"/>
<path d="M479.75 331.40L488.88 339.71" stroke="#000" stroke-width="0.9" fill="none"/>
<rect x="498.51" y="331.40" width="15.10" height="20.61" fill="#fff" stroke="#000" stroke-width="0.9"/>
<path d="M498.51 331.40L513.61 345.14M498.51 347.50L503.46 352.01" stroke="#000" stroke-width="0.9" fill="none"/>
<rect x="517.27" y="288.77" width="15.10" height="42.63" fill="#fff" stroke="#000" stroke-width="0.9"/>
<path d="M517.27 288.77L532.37 302.51M517.27 304.87L532.37 318.61M517.27 320.97L528.73 331.40" stroke="#000" stroke-width="0.9" fill="none"/>
<rect x="536.03" y="331.40" width="15.10" height="44.87" fill="#fff" stroke="#000" stroke-width="0.9"/>
<path d="M536.03 331.40L551.13 345.14M536.03 347.50L551.13 361.24M536.03 363.60L549.96 376.27" stroke="#000" stroke-width="0.9" fill="none"/>
<rect x="554.79" y="309.54" width="15.10" height="21.86" fill="#fff" stroke="#000" stroke-width="0.9"/>
<path d="M554.79 309.54L569.89 323.29M554.79 325.64L561.11 331.40" stroke="#000" stroke-width="0.9" fill="none"/>
<rect x="573.55" y="260.27" width="15.10" height="71.13" fill="#fff" stroke="#000" stroke-width="0.9"/>
<path d="M573.55 260.27L588.65 274.01M573.55 276.37L588.65 290.11M573.55 292.47L588.65 306.21M573.55 308.57L588.65 322.31M573.55 324.67L580.95 331.40" stroke="#000" stroke-width="0.9" fill="none"/>
<rect x="592.31" y="283.70" width="15.10" height="47.70" fill="#fff" stroke="#000" stroke-width="0.9"/>
<path d="M592.31 283.70L607.41 297.44M592.31 299.80L607.41 313.54M592.31 315.90L607.41 329.64" stroke="#000" stroke-width="0.9" fill="none"/>
<rect x="611.07" y="328.57" width="15.10" height="2.83" fill="#fff" stroke="#000" stroke-width="0.9"/>
<path d="M611.07 328.57L614.17 331.40" stroke="#000" stroke-width="0.9" fill="none"/>
<rect x="629.83" y="331.40" width="15.10" height="5.24" fill="#fff" stroke="#000" stroke-width="0.9"/>
<path d="M629.83 331.40L635.58 336.64" stroke="#000" stroke-width="0.9" fill="none"/>
<line x1="393.50" y1="248.30" x2="393.50" y2="415.00" stroke="#1a1a1a" stroke-width="1" />
<line x1="393.00" y1="414.50" x2="656.64" y2="414.50" stroke="#1a1a1a" stroke-width="1" />
<line x1="393.50" y1="331.40" x2="656.64" y2="331.40" stroke="#1a1a1a" stroke-width="1" />
<line x1="393.50" y1="414.50" x2="389.30" y2="414.50" stroke="#1a1a1a" stroke-width="1" />
<line x1="393.50" y1="393.72" x2="391.20" y2="393.72" stroke="#1a1a1a" stroke-width="1" />
<line x1="393.50" y1="372.95" x2="389.30" y2="372.95" stroke="#1a1a1a" stroke-width="1" />
<line x1="393.50" y1="352.17" x2="391.20" y2="352.17" stroke="#1a1a1a" stroke-width="1" />
<line x1="393.50" y1="331.40" x2="389.30" y2="331.40" stroke="#1a1a1a" stroke-width="1" />
<line x1="393.50" y1="310.62" x2="391.20" y2="310.62" stroke="#1a1a1a" stroke-width="1" />
<line x1="393.50" y1="289.85" x2="389.30" y2="289.85" stroke="#1a1a1a" stroke-width="1" />
<line x1="393.50" y1="269.07" x2="391.20" y2="269.07" stroke="#1a1a1a" stroke-width="1" />
<line x1="393.50" y1="248.30" x2="389.30" y2="248.30" stroke="#1a1a1a" stroke-width="1" />
<text x="386.50" y="417.70" font-size="9.5" text-anchor="end" >-10</text>
<text x="386.50" y="376.15" font-size="9.5" text-anchor="end" >-5</text>
<text x="386.50" y="334.60" font-size="9.5" text-anchor="end" >0</text>
<text x="386.50" y="293.05" font-size="9.5" text-anchor="end" >5</text>
<text x="386.50" y="251.50" font-size="9.5" text-anchor="end" >10</text>
<line x1="393.50" y1="414.50" x2="393.50" y2="418.50" stroke="#1a1a1a" stroke-width="1" />
<line x1="412.26" y1="414.50" x2="412.26" y2="416.70" stroke="#1a1a1a" stroke-width="1" />
<line x1="431.02" y1="414.50" x2="431.02" y2="418.50" stroke="#1a1a1a" stroke-width="1" />
<line x1="449.78" y1="414.50" x2="449.78" y2="416.70" stroke="#1a1a1a" stroke-width="1" />
<line x1="468.54" y1="414.50" x2="468.54" y2="418.50" stroke="#1a1a1a" stroke-width="1" />
<line x1="487.30" y1="414.50" x2="487.30" y2="416.70" stroke="#1a1a1a" stroke-width="1" />
<line x1="506.06" y1="414.50" x2="506.06" y2="418.50" stroke="#1a1a1a" stroke-width="1" />
<line x1="524.82" y1="414.50" x2="524.82" y2="416.70" stroke="#1a1a1a" stroke-width="1" />
<line x1="543.58" y1="414.50" x2="543.58" y2="418.50" stroke="#1a1a1a" stroke-width="1" />
<line x1="562.34" y1="414.50" x2="562.34" y2="416.70" stroke="#1a1a1a" stroke-width="1" />
<line x1="581.10" y1="414.50" x2="581.10" y2="418.50" stroke="#1a1a1a" stroke-width="1" />
<line x1="599.86" y1="414.50" x2="599.86" y2="416.70" stroke="#1a1a1a" stroke-width="1" />
<line x1="618.62" y1="414.50" x2="618.62" y2="418.50" stroke="#1a1a1a" stroke-width="1" />
<line x1="637.38" y1="414.50" x2="637.38" y2="416.70" stroke="#1a1a1a" stroke-width="1" />
<line x1="656.14" y1="414.50" x2="656.14" y2="418.50" stroke="#1a1a1a" stroke-width="1" />
<text x="393.50" y="428.60" font-size="9.5" text-anchor="middle" >0</text>
<text x="431.02" y="428.60" font-size="9.5" text-anchor="middle" >2</text>
<text x="468.54" y="428.60" font-size="9.5" text-anchor="middle" >4</text>
<text x="506.06" y="428.60" font-size="9.5" text-anchor="middle" >6</text>
<text x="543.58" y="428.60" font-size="9.5" text-anchor="middle" >8</text>
<text x="581.10" y="428.60" font-size="9.5" text-anchor="middle" >10</text>
<text x="618.62" y="428.60" font-size="9.5" text-anchor="middle" >12</text>
<text x="656.14" y="428.60" font-size="9.5" text-anchor="middle" >14</text>
<text x="358.70" y="247.00" font-size="11.5" text-anchor="start" >(d)</text>
<text x="369.30" y="330.90" font-size="9.5" text-anchor="middle" transform="rotate(-90 369.30 330.90)" >PSI differences</text>
<text x="524.40" y="445.00" font-size="9.6" text-anchor="middle" >Measurement sections</text>
</g>
</svg>
</body></html>
